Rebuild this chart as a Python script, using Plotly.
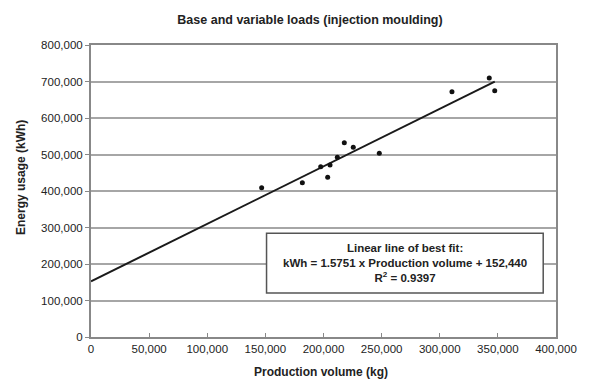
import plotly.graph_objects as go

# Data
production_kg = [146800, 181800, 197600, 203600, 205600, 211900, 217900, 225600,
                 248000, 310500, 342600, 347300]
energy_kwh = [409000, 422700, 466600, 437500, 471200, 492300, 532300, 519700,
              503300, 672000, 709600, 674800]

slope = 1.5751
intercept = 152440
r2 = 0.9397

x_ticks = [0, 50000, 100000, 150000, 200000, 250000, 300000, 350000, 400000]
y_ticks = [0, 100000, 200000, 300000, 400000, 500000, 600000, 700000, 800000]

fit_x = [0, max(production_kg)]
fit_y = [slope * v + intercept for v in fit_x]

font_family = "Liberation Sans, Arial, sans-serif"
W, H = 591, 380
L, R, T, B = 91, 35, 45, 43

fig = go.Figure()
fig.add_trace(go.Scatter(x=fit_x, y=fit_y, mode="lines",
                         line=dict(color="#1a1a1a", width=2),
                         showlegend=False, hoverinfo="skip"))
fig.add_trace(go.Scatter(x=production_kg, y=energy_kwh, mode="markers",
                         marker=dict(color="#111111", size=5),
                         showlegend=False))

fig.add_shape(type="rect", xref="x", yref="y",
              x0=151000, x1=389000, y0=120500, y1=284000,
              line=dict(color="#555555", width=1.5), fillcolor="white",
              layer="above")
fig.add_annotation(
    x=270100, y=204000, xref="x", yref="y", showarrow=False,
    text=("<b>Linear line of best fit:</b><br>"
          f"<b>kWh = {slope:.4f} x Production volume + {intercept:,}</b><br>"
          f"<b>R<sup>2</sup> = {r2:.4f}</b>"),
    font=dict(family=font_family, size=11.5, color="#222222"),
    align="center", xanchor="center", yanchor="middle")

# Axis titles
fig.add_annotation(x=(321 - L) / (W - L - R), y=-(372 - (H - B)) / (H - T - B),
                   xref="paper", yref="paper", showarrow=False,
                   text="<b>Production volume (kg)</b>",
                   font=dict(family=font_family, size=12, color="#222222"),
                   xanchor="center", yanchor="middle")
fig.add_annotation(x=-(L - 21) / (W - L - R), y=((H - B) - 178) / (H - T - B),
                   xref="paper", yref="paper", showarrow=False, textangle=-90,
                   text="<b>Energy usage (kWh)</b>",
                   font=dict(family=font_family, size=12, color="#222222"),
                   xanchor="center", yanchor="middle")

fig.update_layout(
    width=W, height=H,
    margin=dict(l=L, r=R, t=T, b=B, autoexpand=False),
    paper_bgcolor="white", plot_bgcolor="white",
    font=dict(family=font_family, size=11.5, color="#222222"),
    title=dict(text="<b>Base and variable loads (injection moulding)</b>",
               xref="container", yref="container",
               x=310 / W, xanchor="center", y=1 - 20 / H, yanchor="middle",
               font=dict(size=12.5, family=font_family, color="#222222")),
    xaxis=dict(range=[0, 400000], tickvals=x_ticks,
               ticktext=[f"{v:,}" for v in x_ticks],
               showgrid=False, zeroline=False, automargin=False,
               showline=True, linecolor="#888888", linewidth=2, mirror=True,
               ticks="inside", ticklen=4, tickcolor="#888888"),
    yaxis=dict(range=[0, 800000], tickvals=y_ticks,
               ticktext=[f"{v:,}" for v in y_ticks],
               showgrid=True, gridcolor="#a6a6a6", gridwidth=1.6,
               zeroline=False, automargin=False,
               showline=True, linecolor="#888888", linewidth=2, mirror=True,
               ticks="outside", ticklen=4, tickcolor="#888888"),
)

fig.write_html("out.html",
               config={"displayModeBar": False},
               post_script="document.body.style.margin='0';"
                           "document.body.style.overflow='hidden';")
